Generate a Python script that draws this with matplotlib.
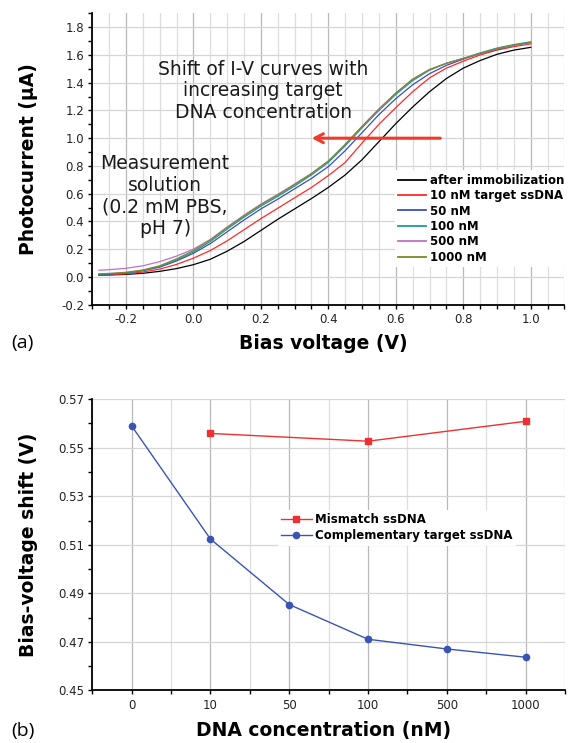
import matplotlib
matplotlib.use('Agg')
import matplotlib.pyplot as plt
import numpy as np
from matplotlib.ticker import MultipleLocator, FixedLocator, FormatStrFormatter

plt.rcParams['font.family'] = 'DejaVu Sans'
plt.rcParams['axes.unicode_minus'] = False

# ---- panel (a): I-V curves ----
bias = [-0.28, -0.25, -0.2, -0.15, -0.1, -0.05, 0.0, 0.05, 0.1, 0.15, 0.2, 0.25, 0.3, 0.35,
        0.4, 0.45, 0.5, 0.55, 0.6, 0.65, 0.7, 0.75, 0.8, 0.85, 0.9, 0.95, 1.0]
i_after = [0.012, 0.014, 0.018, 0.026, 0.04, 0.06, 0.088, 0.127, 0.185, 0.255, 0.335, 0.415, 0.49, 0.565,
           0.645, 0.735, 0.845, 0.975, 1.105, 1.225, 1.335, 1.43, 1.505, 1.56, 1.605, 1.635, 1.655]
i_10nM = [0.012, 0.015, 0.022, 0.035, 0.056, 0.09, 0.135, 0.19, 0.26, 0.34, 0.42, 0.495, 0.57, 0.645,
          0.73, 0.825, 0.965, 1.1, 1.22, 1.335, 1.435, 1.505, 1.555, 1.6, 1.635, 1.66, 1.68]
i_50nM = [0.018, 0.02, 0.028, 0.045, 0.07, 0.115, 0.17, 0.24, 0.325, 0.41, 0.49, 0.56, 0.635, 0.71,
          0.795, 0.91, 1.04, 1.17, 1.285, 1.385, 1.465, 1.525, 1.57, 1.61, 1.64, 1.67, 1.69]
i_100nM = [0.02, 0.022, 0.03, 0.047, 0.075, 0.122, 0.18, 0.255, 0.345, 0.43, 0.51, 0.58, 0.655, 0.735,
           0.825, 0.945, 1.075, 1.2, 1.315, 1.415, 1.49, 1.54, 1.575, 1.615, 1.65, 1.675, 1.695]
i_500nM = [0.048, 0.052, 0.062, 0.08, 0.11, 0.15, 0.2, 0.27, 0.36, 0.445, 0.525, 0.595, 0.67, 0.745,
           0.835, 0.955, 1.085, 1.21, 1.325, 1.425, 1.495, 1.54, 1.575, 1.61, 1.645, 1.67, 1.685]
i_1000nM = [0.022, 0.025, 0.033, 0.05, 0.08, 0.13, 0.19, 0.265, 0.355, 0.44, 0.52, 0.59, 0.665, 0.745,
            0.835, 0.955, 1.085, 1.21, 1.325, 1.425, 1.495, 1.54, 1.575, 1.61, 1.645, 1.67, 1.69]

curves = [(i_after, 'after immobilization', '#000000'),
          (i_10nM, '10 nM target ssDNA', '#ff2a2a'),
          (i_50nM, '50 nM', '#3a4fb8'),
          (i_100nM, '100 nM', '#1a9a9a'),
          (i_500nM, '500 nM', '#c070c8'),
          (i_1000nM, '1000 nM', '#7a8a28')]

# ---- panel (b): bias-voltage shift ----
conc_labels = ['0', '10', '50', '100', '500', '1000']
comp_shift = [0.559, 0.5124, 0.4854, 0.4711, 0.4671, 0.4637]
mismatch_conc = ['10', '100', '1000']
mismatch_shift = [0.5559, 0.5527, 0.5609]

fig = plt.figure(figsize=(5.73, 7.43), dpi=100)


def style_axes(ax):
    for s in ['top', 'right']:
        ax.spines[s].set_visible(False)
    for s in ['left', 'bottom']:
        ax.spines[s].set_linewidth(1.3)
    ax.tick_params(which='both', direction='out', length=2.8, width=1.0,
                   labelsize=8.5, labelcolor='#222222', pad=3)
    ax.grid(which='major', axis='x', color='#b8b8b8', lw=0.9)
    ax.grid(which='minor', axis='x', color='#dedede', lw=0.9)
    ax.grid(which='major', axis='y', color='#d6d6d6', lw=0.9)
    ax.set_axisbelow(True)


ax1 = fig.add_axes([0.161, 0.590, 0.824, 0.392])
style_axes(ax1)
for vals, lab, col in curves:
    ax1.plot(bias, vals, color=col, lw=0.9, label=lab)
ax1.set_xlim(-0.3, 1.1)
ax1.set_ylim(-0.2, 1.9)
ax1.xaxis.set_major_locator(MultipleLocator(0.2))
ax1.xaxis.set_minor_locator(MultipleLocator(0.05))
ax1.yaxis.set_major_locator(MultipleLocator(0.2))
ax1.yaxis.set_minor_locator(MultipleLocator(0.1))
ax1.xaxis.set_major_formatter(FormatStrFormatter('%.1f'))
ax1.yaxis.set_major_formatter(FormatStrFormatter('%.1f'))
ax1.set_xlabel('Bias voltage (V)', fontsize=13.5, fontweight='bold', va='center')
ax1.xaxis.set_label_coords(0.49, -0.132)
ax1.set_ylabel('Photocurrent (\u03bcA)', fontsize=13.5, fontweight='bold', va='center')
ax1.yaxis.set_label_coords(-0.134, 0.5)

leg1 = ax1.legend(loc='upper left', bbox_to_anchor=(0.641, 0.461), borderaxespad=0,
                  borderpad=0.3, handlelength=2.3, handletextpad=0.4, labelspacing=0.2,
                  frameon=True, fancybox=False, facecolor='white', edgecolor='none',
                  framealpha=1, prop={'size': 8.5, 'weight': 'bold'})
for line in leg1.get_lines():
    line.set_linewidth(1.3)

ax1.text(0.207, 1.342, 'Shift of I-V curves with\nincreasing target\nDNA concentration',
         ha='center', va='center', fontsize=13.5, linespacing=1.17, color='#1a1a1a')
ax1.text(-0.084, 0.583, 'Measurement\nsolution\n(0.2 mM PBS,\npH 7)',
         ha='center', va='center', fontsize=13.5, linespacing=1.17, color='#1a1a1a')
ax1.annotate('', xy=(0.351, 1.0), xytext=(0.732, 1.0),
             arrowprops=dict(arrowstyle='->, head_length=0.6, head_width=0.32',
                             color='#f03a2a', lw=2.2, shrinkA=0, shrinkB=0))

fig.text(0.04, 1 - 343 / 743, '(a)', fontsize=14, family='Open Sans', ha='center', va='center')

ax2 = fig.add_axes([0.161, 0.0707, 0.825, 0.392])
style_axes(ax2)
xpos = np.arange(len(conc_labels))
mis_pos = [conc_labels.index(c) for c in mismatch_conc]
ax2.plot(mis_pos, mismatch_shift, color='#ee3030', lw=1.0, marker='s', ms=4.5,
         label='Mismatch ssDNA')
ax2.plot(xpos, comp_shift, color='#3a54b4', lw=1.0, marker='o', ms=4.5,
         label='Complementary target ssDNA')
ax2.set_xlim(-0.5, len(conc_labels) - 0.5)
ax2.set_ylim(0.45, 0.57)
ax2.xaxis.set_major_locator(FixedLocator(xpos))
ax2.set_xticklabels(conc_labels)
ax2.xaxis.set_minor_locator(FixedLocator(np.arange(-0.5, len(conc_labels), 1.0)))
ax2.set_yticks(np.arange(0.45, 0.5701, 0.02))
ax2.yaxis.set_minor_locator(MultipleLocator(0.01))
ax2.yaxis.set_major_formatter(FormatStrFormatter('%.2f'))
ax2.set_xlabel('DNA concentration (nM)', fontsize=13.5, fontweight='bold', va='center')
ax2.xaxis.set_label_coords(0.49, -0.139)
ax2.set_ylabel('Bias-voltage shift (V)', fontsize=13.5, fontweight='bold', va='center')
ax2.yaxis.set_label_coords(-0.134, 0.5)
ax2.legend(loc='upper left', bbox_to_anchor=(0.392, 0.621), borderaxespad=0,
           borderpad=0.3, handlelength=2.6, handletextpad=0.3, labelspacing=0.25,
           frameon=True, fancybox=False, facecolor='white', edgecolor='none',
           framealpha=1, prop={'size': 8.5, 'weight': 'bold'})

fig.text(0.04, 1 - 731 / 743, '(b)', fontsize=14, family='Open Sans', ha='center', va='center')

fig.savefig('out.png', dpi=100)
